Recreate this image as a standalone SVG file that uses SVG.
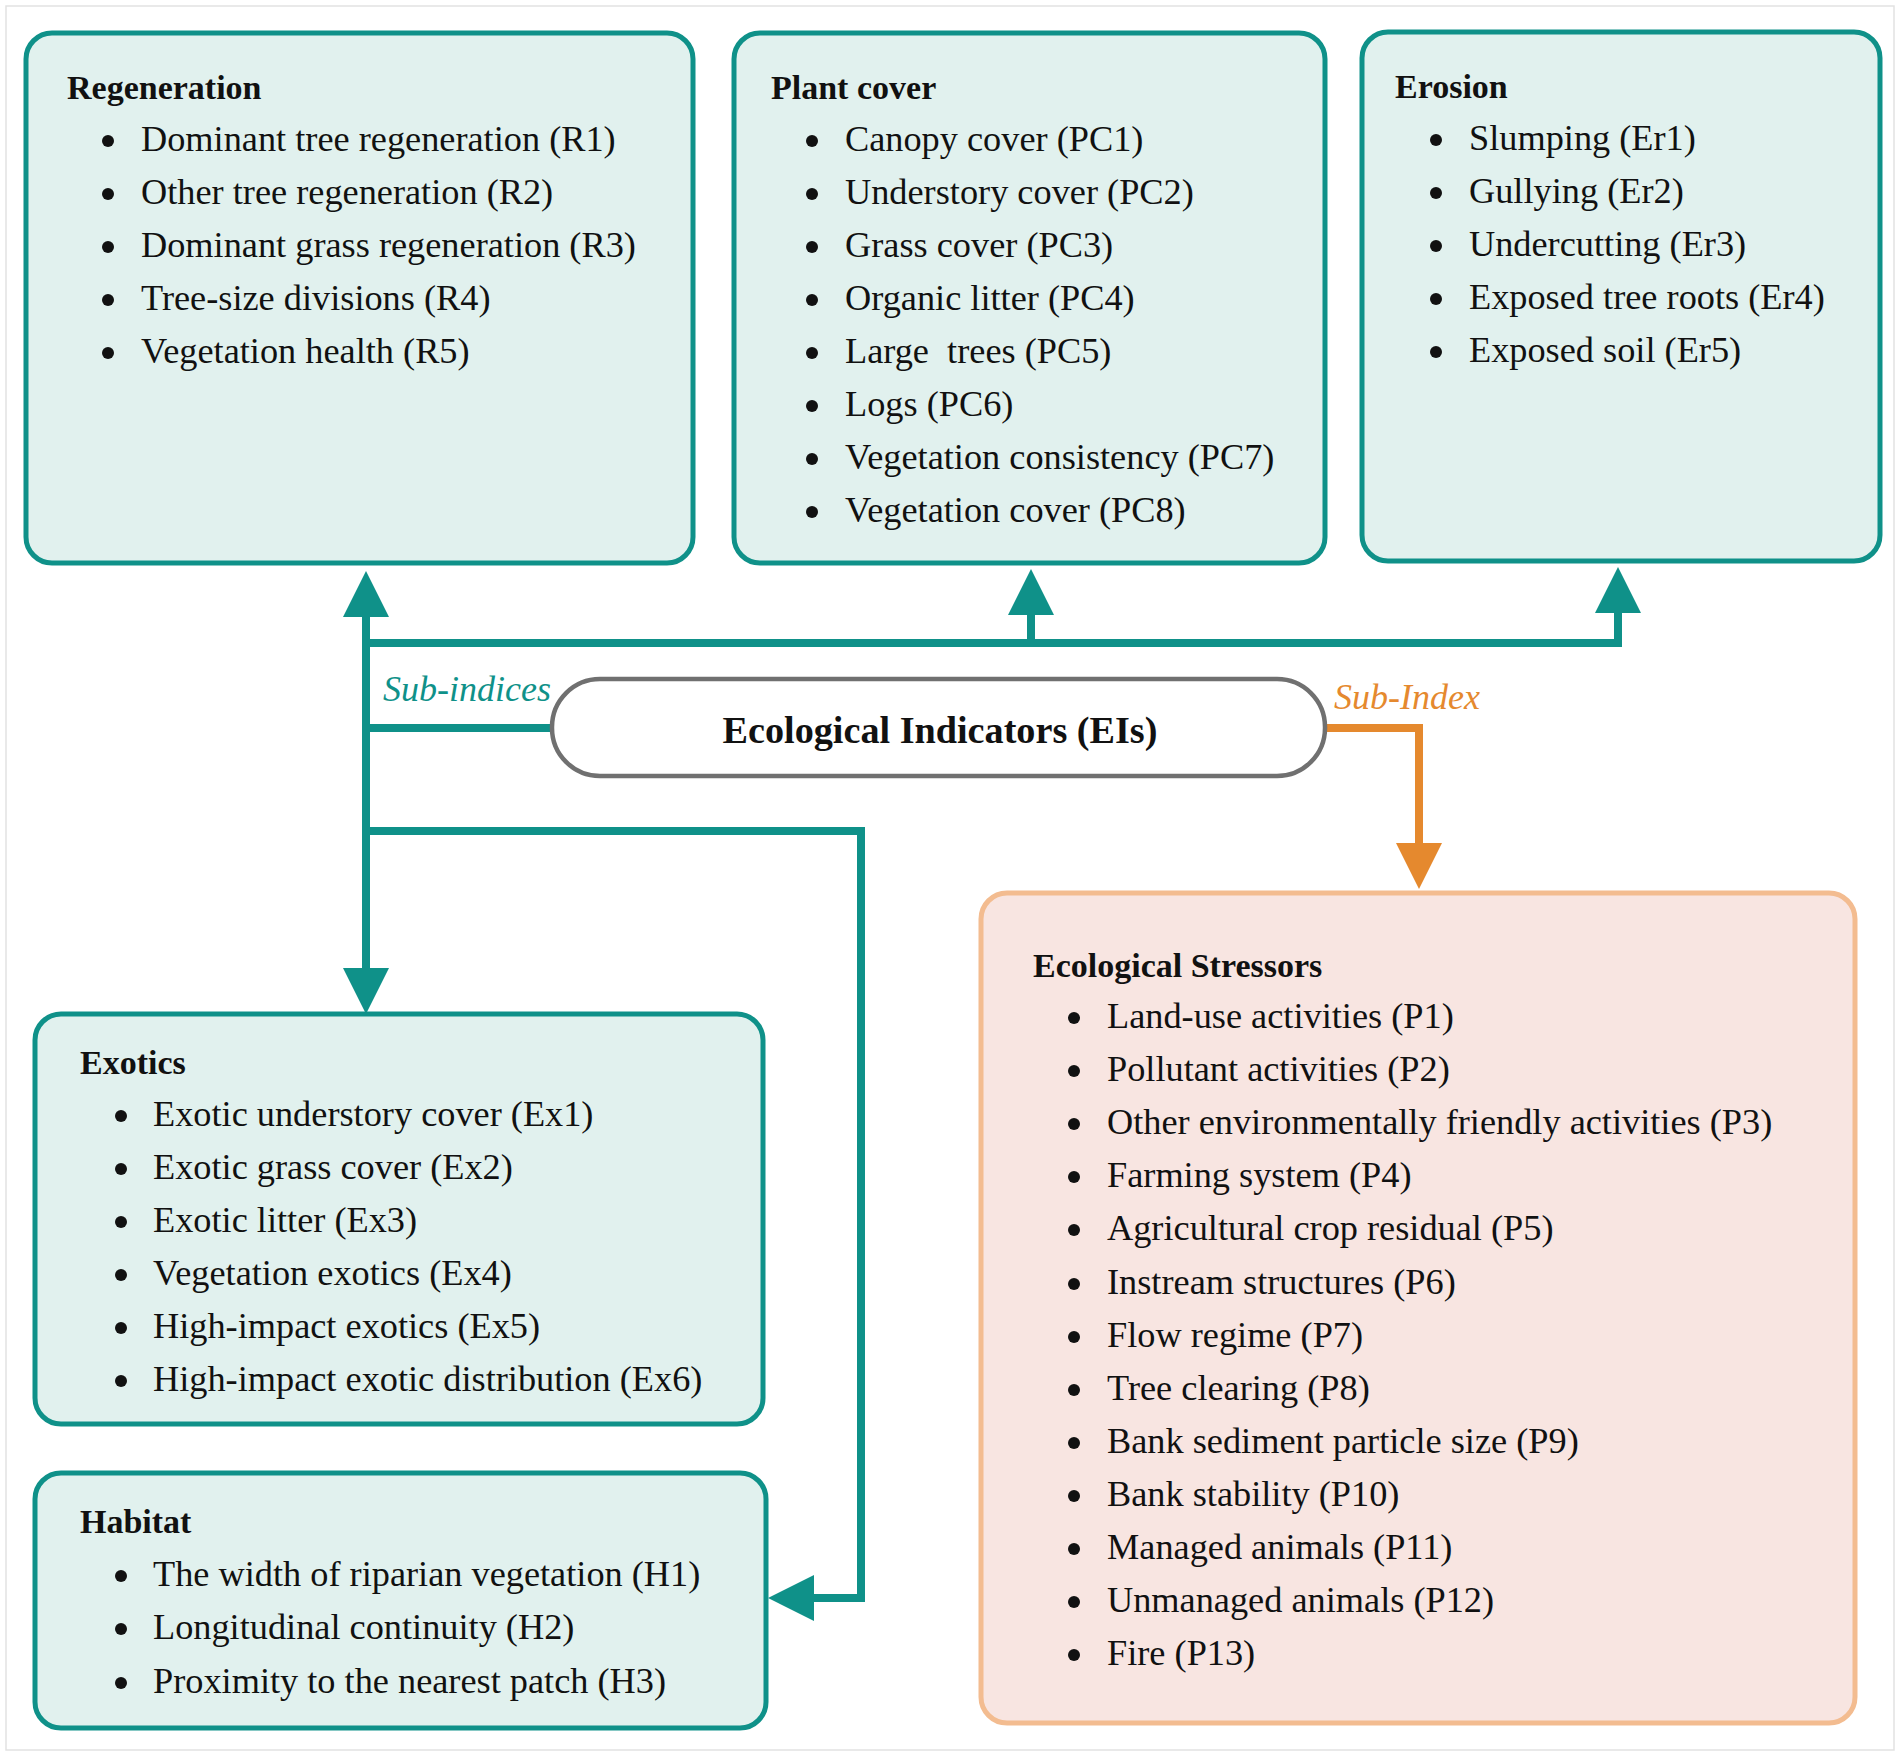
<svg xmlns="http://www.w3.org/2000/svg" width="1902" height="1757" viewBox="0 0 1902 1757">
<style>
.frame{fill:#ffffff;stroke:#e2e2e2;stroke-width:1.5}
.box{fill:#e1f1ee;stroke:#0f9189;stroke-width:5}
.sbox{fill:#f8e5e1;stroke:#f3bc90;stroke-width:5}
.pill{fill:#ffffff;stroke:#707070;stroke-width:4.5}
.title{font-family:"Liberation Serif","Times New Roman",serif;font-weight:bold;font-size:34px;fill:#111}
.item{font-family:"Liberation Serif","Times New Roman",serif;font-size:36.3px;fill:#111;white-space:pre}
.main{font-family:"Liberation Serif","Times New Roman",serif;font-weight:bold;font-size:38.2px;fill:#111}
.lab{font-family:"Liberation Serif","Times New Roman",serif;font-style:italic;font-size:36px}
.bul{fill:#111}
.tl{fill:none;stroke:#0f9189;stroke-width:8;stroke-linejoin:miter}
.ol{fill:none;stroke:#e5892e;stroke-width:8;stroke-linejoin:miter}
</style>
<defs>
<marker id="ahT" markerUnits="userSpaceOnUse" markerWidth="46" markerHeight="46" viewBox="0 0 44 44" refX="1" refY="22" orient="auto">
<path d="M0,0 L44,22 L0,44 Z" fill="#0f9189"/>
</marker>
<marker id="ahO" markerUnits="userSpaceOnUse" markerWidth="46" markerHeight="46" viewBox="0 0 44 44" refX="1" refY="22" orient="auto">
<path d="M0,0 L44,22 L0,44 Z" fill="#e5892e"/>
</marker>
</defs>
<rect class="frame" x="6" y="6" width="1888" height="1744"/>

<g id="connectors">
<path class="tl" d="M552,728 H366 V616" marker-end="url(#ahT)"/>
<path class="tl" d="M366,643 H1031 V614" marker-end="url(#ahT)"/>
<path class="tl" d="M366,643 H1618 V612" marker-end="url(#ahT)"/>
<path class="tl" d="M366,728 V969" marker-end="url(#ahT)"/>
<path class="tl" d="M366,831 H861 V1598 H813" marker-end="url(#ahT)"/>
<path class="ol" d="M1325,728 H1419 V844" marker-end="url(#ahO)"/>
<text class="lab" x="383" y="701" fill="#0f9189">Sub-indices</text>
<text class="lab" x="1334" y="709" fill="#e5892e">Sub-Index</text>
</g>

<g id="regeneration">
<rect class="box" x="26" y="33" width="667" height="530" rx="26"/>
<text class="title" x="67" y="99">Regeneration</text>
<circle class="bul" cx="108" cy="141" r="6"/><text class="item" x="141" y="151">Dominant tree regeneration (R1)</text>
<circle class="bul" cx="108" cy="194" r="6"/><text class="item" x="141" y="204">Other tree regeneration (R2)</text>
<circle class="bul" cx="108" cy="247" r="6"/><text class="item" x="141" y="257">Dominant grass regeneration (R3)</text>
<circle class="bul" cx="108" cy="300" r="6"/><text class="item" x="141" y="310">Tree-size divisions (R4)</text>
<circle class="bul" cx="108" cy="353" r="6"/><text class="item" x="141" y="363">Vegetation health (R5)</text>
</g>

<g id="plant-cover">
<rect class="box" x="734" y="33" width="591" height="530" rx="26"/>
<text class="title" x="771" y="99">Plant cover</text>
<circle class="bul" cx="812" cy="141" r="6"/><text class="item" x="845" y="151">Canopy cover (PC1)</text>
<circle class="bul" cx="812" cy="194" r="6"/><text class="item" x="845" y="204">Understory cover (PC2)</text>
<circle class="bul" cx="812" cy="247" r="6"/><text class="item" x="845" y="257">Grass cover (PC3)</text>
<circle class="bul" cx="812" cy="300" r="6"/><text class="item" x="845" y="310">Organic litter (PC4)</text>
<circle class="bul" cx="812" cy="353" r="6"/><text class="item" x="845" y="363">Large  trees (PC5)</text>
<circle class="bul" cx="812" cy="406" r="6"/><text class="item" x="845" y="416">Logs (PC6)</text>
<circle class="bul" cx="812" cy="459" r="6"/><text class="item" x="845" y="469">Vegetation consistency (PC7)</text>
<circle class="bul" cx="812" cy="512" r="6"/><text class="item" x="845" y="522">Vegetation cover (PC8)</text>
</g>

<g id="erosion">
<rect class="box" x="1362" y="32" width="518" height="529" rx="26"/>
<text class="title" x="1395" y="98">Erosion</text>
<circle class="bul" cx="1436" cy="140" r="6"/><text class="item" x="1469" y="150">Slumping (Er1)</text>
<circle class="bul" cx="1436" cy="193" r="6"/><text class="item" x="1469" y="203">Gullying (Er2)</text>
<circle class="bul" cx="1436" cy="246" r="6"/><text class="item" x="1469" y="256">Undercutting (Er3)</text>
<circle class="bul" cx="1436" cy="299" r="6"/><text class="item" x="1469" y="309">Exposed tree roots (Er4)</text>
<circle class="bul" cx="1436" cy="352" r="6"/><text class="item" x="1469" y="362">Exposed soil (Er5)</text>
</g>

<g id="ecological-indicators">
<rect class="pill" x="552" y="679" width="773" height="97" rx="48"/>
<text class="main" x="940" y="743" text-anchor="middle">Ecological Indicators (EIs)</text>
</g>

<g id="exotics">
<rect class="box" x="35" y="1014" width="728" height="410" rx="26"/>
<text class="title" x="80" y="1074">Exotics</text>
<circle class="bul" cx="121" cy="1116" r="6"/><text class="item" x="153" y="1126">Exotic understory cover (Ex1)</text>
<circle class="bul" cx="121" cy="1169" r="6"/><text class="item" x="153" y="1179">Exotic grass cover (Ex2)</text>
<circle class="bul" cx="121" cy="1222" r="6"/><text class="item" x="153" y="1232">Exotic litter (Ex3)</text>
<circle class="bul" cx="121" cy="1275" r="6"/><text class="item" x="153" y="1285">Vegetation exotics (Ex4)</text>
<circle class="bul" cx="121" cy="1328" r="6"/><text class="item" x="153" y="1338">High-impact exotics (Ex5)</text>
<circle class="bul" cx="121" cy="1381" r="6"/><text class="item" x="153" y="1391">High-impact exotic distribution (Ex6)</text>
</g>

<g id="habitat">
<rect class="box" x="35" y="1473" width="731" height="255" rx="26"/>
<text class="title" x="80" y="1533">Habitat</text>
<circle class="bul" cx="121" cy="1576" r="6"/><text class="item" x="153" y="1586">The width of riparian vegetation (H1)</text>
<circle class="bul" cx="121" cy="1629" r="6"/><text class="item" x="153" y="1639">Longitudinal continuity (H2)</text>
<circle class="bul" cx="121" cy="1683" r="6"/><text class="item" x="153" y="1693">Proximity to the nearest patch (H3)</text>
</g>

<g id="ecological-stressors">
<rect class="sbox" x="981" y="893" width="874" height="830" rx="26"/>
<text class="title" x="1033" y="977">Ecological Stressors</text>
<circle class="bul" cx="1074" cy="1018" r="6"/><text class="item" x="1107" y="1028">Land-use activities (P1)</text>
<circle class="bul" cx="1074" cy="1071" r="6"/><text class="item" x="1107" y="1081">Pollutant activities (P2)</text>
<circle class="bul" cx="1074" cy="1124" r="6"/><text class="item" x="1107" y="1134">Other environmentally friendly activities (P3)</text>
<circle class="bul" cx="1074" cy="1177" r="6"/><text class="item" x="1107" y="1187">Farming system (P4)</text>
<circle class="bul" cx="1074" cy="1230" r="6"/><text class="item" x="1107" y="1240">Agricultural crop residual (P5)</text>
<circle class="bul" cx="1074" cy="1284" r="6"/><text class="item" x="1107" y="1294">Instream structures (P6)</text>
<circle class="bul" cx="1074" cy="1337" r="6"/><text class="item" x="1107" y="1347">Flow regime (P7)</text>
<circle class="bul" cx="1074" cy="1390" r="6"/><text class="item" x="1107" y="1400">Tree clearing (P8)</text>
<circle class="bul" cx="1074" cy="1443" r="6"/><text class="item" x="1107" y="1453">Bank sediment particle size (P9)</text>
<circle class="bul" cx="1074" cy="1496" r="6"/><text class="item" x="1107" y="1506">Bank stability (P10)</text>
<circle class="bul" cx="1074" cy="1549" r="6"/><text class="item" x="1107" y="1559">Managed animals (P11)</text>
<circle class="bul" cx="1074" cy="1602" r="6"/><text class="item" x="1107" y="1612">Unmanaged animals (P12)</text>
<circle class="bul" cx="1074" cy="1655" r="6"/><text class="item" x="1107" y="1665">Fire (P13)</text>
</g>
</svg>
